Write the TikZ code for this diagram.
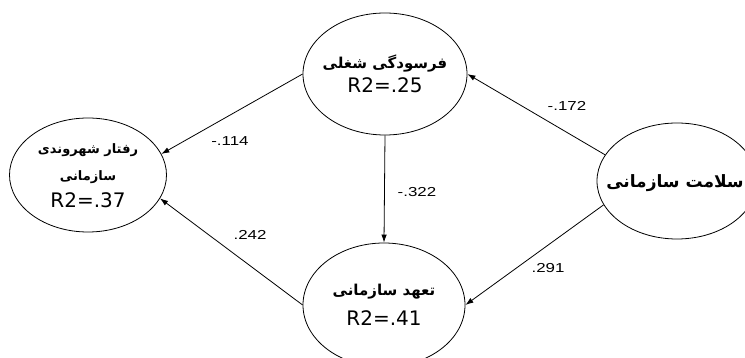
\documentclass[tikz,border=0pt]{standalone}
\usepackage{fontspec}
\setmainfont{DejaVu Sans}
\newfontfamily\arabicfont[Script=Arabic]{DejaVu Sans Bold}
\newfontfamily\coeffont[FakeStretch=1.3]{Liberation Sans}
\TeXXeTstate=1
\usetikzlibrary{shapes.geometric,arrows.meta,positioning}

\begin{document}
\begin{tikzpicture}[x=1pt,y=-1pt,
    latent/.style={ellipse,draw,line width=0.8pt,inner sep=0pt},
    txt/.style={align=center,inner sep=0pt},
    coef/.style={font=\coeffont\fontsize{13}{13}\selectfont,inner sep=0pt},
    path/.style={-{Latex[length=8pt,width=5.5pt]},line width=0.8pt}]
    \useasboundingbox (0,0) rectangle (745,358);
    % constructs
    \node[latent,minimum width=164pt,minimum height=122pt] (burn) at (385,74) {};
    \node[latent,minimum width=157pt,minimum height=114pt] (ocb) at (88,175) {};
    \node[latent,minimum width=162pt,minimum height=124pt] (comm) at (384,305) {};
    \node[latent,minimum width=160pt,minimum height=116pt] (hlth) at (677,181) {};
    \node[txt] (burntxt) at (burn) {{\arabicfont\fontsize{15}{15}\selectfont\beginR فرسودگی شغلی\endR}\\[5pt]
        {\fontsize{20}{20}\selectfont R2=.25}};
    \node[txt] (ocbtxt) at ([yshift=-1pt]ocb) {{\arabicfont\fontsize{13}{13}\selectfont\beginR رفتار شهروندی\endR}\\[13pt]
        {\arabicfont\fontsize{13}{13}\selectfont\beginR سازمانی\endR}\\[8pt]
        {\fontsize{20}{20}\selectfont R2=.37}};
    \node[txt] (commtxt) at (comm) {{\arabicfont\fontsize{15}{15}\selectfont\beginR تعهد سازمانی\endR}\\[11pt]
        {\fontsize{20}{20}\selectfont R2=.41}};
    \node[txt] (hlthtxt) at ([xshift=-2pt,yshift=-2pt]hlth) {\arabicfont\fontsize{17}{17}\selectfont\beginR سلامت سازمانی\endR};
    % paths
    \draw[path] (burn.west) -- (ocb.16);
    \draw[path] (comm.west) -- (ocb.-18);
    \draw[path] (burn.south) -- (comm.north);
    \draw[path] (hlth.160) -- (burn.east);
    \draw[path] (hlth.198) -- (comm.east);
    % coefficients
    \node[coef] (b1) at (230,141) {-.114};
    \node[coef] (b2) at (250,235) {.242};
    \node[coef] (b3) at (417,192) {-.322};
    \node[coef] (b4) at (567,106) {-.172};
    \node[coef] (b5) at (548,268) {.291};
\end{tikzpicture}
\end{document}
